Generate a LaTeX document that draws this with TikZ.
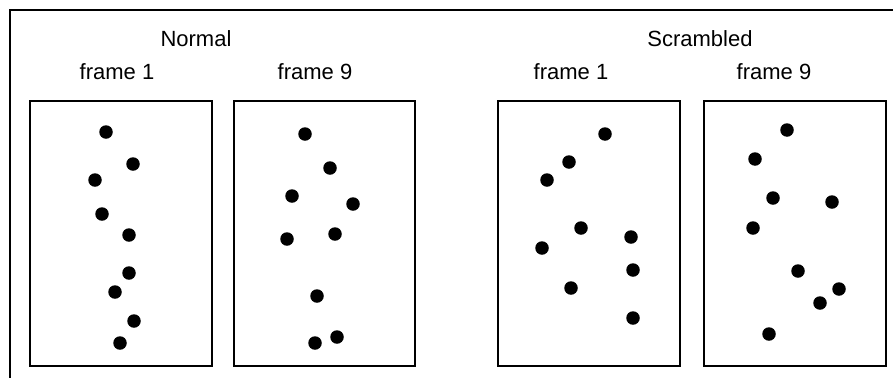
\documentclass[tikz,border=0pt]{standalone}
\usepackage{fontspec}
\setmainfont{Liberation Sans}
\begin{document}
\begin{tikzpicture}[x=1pt,y=-1pt,
  panel/.style={draw=black,line width=2pt},
  dot/.style={circle,fill=black,inner sep=0pt,minimum size=13.5pt},
  lbl/.style={font=\fontsize{22}{24}\selectfont,inner sep=0pt,anchor=center}]
\useasboundingbox (0,0) rectangle (893,378);
\coordinate (tl) at (10,10);
\coordinate (tr) at (893,10);
\coordinate (bl) at (10,378);
\draw[line width=2pt] (tr) -- (tl) -- (bl);
% panels
\draw[panel] (30,101) rectangle (212,366);
\draw[panel] (234,101) rectangle (415,366);
\draw[panel] (498,101) rectangle (680,366);
\draw[panel] (704,101) rectangle (886,366);
% labels
\node[lbl] (normal) at (196,39) {Normal};
\node[lbl] (scr) at (700,39) {Scrambled};
\node[lbl] (n1) at (117,72) {frame 1};
\node[lbl] (n9) at (315,72) {frame 9};
\node[lbl] (s1) at (571,72) {frame 1};
\node[lbl] (s9) at (774,72) {frame 9};
% box 1 dots
\foreach \p [count=\i] in {(106,132),(133,164),(95,180),(102,214),(129,235),(129,273),(115,292),(134,321),(120,343)}
  \node[dot] (a\i) at \p {};
% box 2 dots
\foreach \p [count=\i] in {(305,134),(330,168),(292,196),(353,204),(287,239),(335,234),(317,296),(337,337),(315,343)}
  \node[dot] (b\i) at \p {};
% box 3 dots
\foreach \p [count=\i] in {(605,134),(569,162),(547,180),(581,228),(631,237),(542,248),(633,270),(571,288),(633,318)}
  \node[dot] (c\i) at \p {};
% box 4 dots
\foreach \p [count=\i] in {(787,130),(755,159),(773,198),(832,202),(753,228),(798,271),(839,289),(820,303),(769,334)}
  \node[dot] (d\i) at \p {};
\end{tikzpicture}
\end{document}
